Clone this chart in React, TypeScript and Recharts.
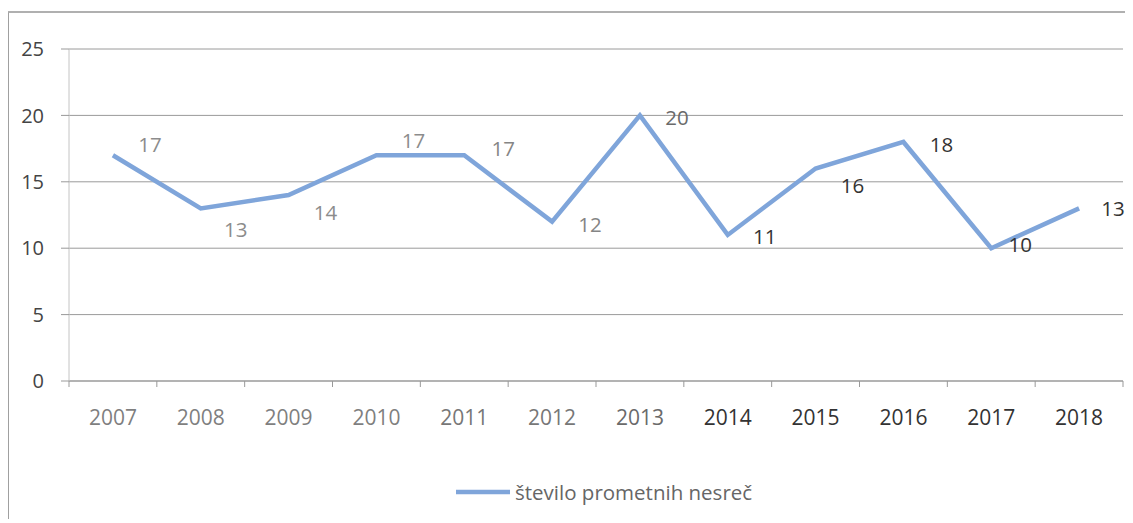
import React from "react";
import { LineChart, Line, XAxis, YAxis, CartesianGrid, Legend, LabelList } from "recharts";

const years = ["2007", "2008", "2009", "2010", "2011", "2012", "2013", "2014", "2015", "2016", "2017", "2018"];
const accidents = [17, 13, 14, 17, 17, 12, 20, 11, 16, 18, 10, 13];
const yTicks = [0, 5, 10, 15, 20, 25];
const seriesName = "število prometnih nesreč";

// label placement relative to each point (style only)
const labelOffsets: [number, number][] = [
  [37, -10], [35, 22], [37, 18], [37, -14], [39, -6], [38, 3],
  [37, 3], [37, 2], [37, 17], [38, 3], [29, -3], [34, 1],
];
const labelColors = ["#8c8c8c", "#8c8c8c", "#8c8c8c", "#8c8c8c", "#858585", "#858585", "#6a6a6a", "#333", "#333", "#333", "#333", "#333"];
const tickColors = ["#7f7f7f", "#7f7f7f", "#7f7f7f", "#7f7f7f", "#777", "#777", "#6a6a6a", "#333", "#333", "#333", "#333", "#333"];

const data = years.map((y, i) => ({ year: y, value: accidents[i] }));

const W = 1125;
const H = 512;
const PLOT_LEFT = 61;
const PLOT_RIGHT = 1115;
const HALF = (PLOT_RIGHT - PLOT_LEFT) / years.length / 2;
const FONT = "'Open Sans', sans-serif";
const LINE_COLOR = "#7fa5da";

const XTick = (props: any) => {
  const { x, y, payload, index } = props;
  const axisY = y - 8;
  return (
    <g>
      <line x1={x - HALF} y1={axisY} x2={x - HALF} y2={axisY + 6} stroke="#999" />
      {index === years.length - 1 && (
        <line x1={x + HALF} y1={axisY} x2={x + HALF} y2={axisY + 6} stroke="#999" />
      )}
      <text x={x} y={axisY + 44} textAnchor="middle" fontSize={21} fontFamily={FONT} fill={tickColors[index]}>
        {payload.value}
      </text>
    </g>
  );
};

const DataLabel = (props: any) => {
  const { x, y, value, index } = props;
  const [dx, dy] = labelOffsets[index];
  return (
    <text x={x + dx} y={y + dy + 7} textAnchor="middle" fontSize={20.5} fontFamily={FONT} fill={labelColors[index]}>
      {value}
    </text>
  );
};

const LegendContent = () => (
  <div style={{ display: "flex", alignItems: "center", fontFamily: FONT, fontSize: 20.5, color: "#666", whiteSpace: "nowrap" }}>
    <svg width={59} height={10} style={{ display: "block" }}>
      <line x1={0} y1={5} x2={54} y2={5} stroke={LINE_COLOR} strokeWidth={4.5} />
    </svg>
    <span>{seriesName}</span>
  </div>
);

export default function App() {
  return (
    <div style={{ position: "relative", width: W, height: H, overflow: "hidden" }}>
      <div
        style={{
          position: "absolute",
          left: -1,
          top: 3,
          width: W - 2,
          height: H - 6,
          borderTop: "2px solid #b0b0b0",
          borderLeft: "2px solid #a0a0a0",
        }}
      />
      <LineChart width={W} height={H} data={data} margin={{ top: 41, right: W - PLOT_RIGHT, left: 0, bottom: 99 }} style={{ overflow: "visible" }}>
        <CartesianGrid horizontal vertical={false} stroke="#9a9a9a" />
        <XAxis
          dataKey="year"
          height={40}
          padding={{ left: HALF, right: HALF }}
          axisLine={{ stroke: "#999" }}
          tickLine={false}
          interval={0}
          tick={<XTick />}
        />
        <YAxis
          width={PLOT_LEFT}
          domain={[0, 25]}
          ticks={yTicks}
          axisLine={{ stroke: "#c4c4c4" }}
          tickLine={{ stroke: "#999" }}
          tickSize={8}
          tickMargin={17}
          tick={{ fontSize: 20, fontFamily: FONT, fill: "#444" }}
        />
        <Legend
          verticalAlign="middle"
          align="center"
          content={<LegendContent />}
          wrapperStyle={{ left: 448, top: 470, width: "auto" }}
        />
        <Line
          type="linear"
          dataKey="value"
          name={seriesName}
          stroke={LINE_COLOR}
          strokeWidth={4.5}
          dot={false}
          activeDot={false}
          isAnimationActive={false}
        >
          <LabelList dataKey="value" content={<DataLabel />} />
        </Line>
      </LineChart>
    </div>
  );
}
